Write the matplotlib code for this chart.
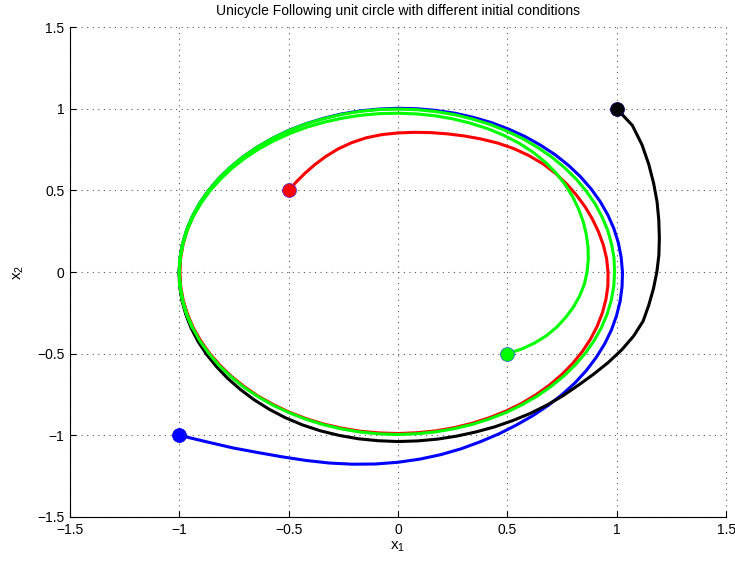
import numpy as np
import matplotlib
matplotlib.use("Agg")
import matplotlib.pyplot as plt

plt.rcParams["font.family"] = ["Liberation Sans", "DejaVu Sans"]
plt.rcParams["mathtext.fontset"] = "custom"
plt.rcParams["mathtext.rm"] = "Liberation Sans"

TITLE = "Unicycle Following unit circle with different initial conditions"
TICKS = [-1.5, -1, -0.5, 0, 0.5, 1, 1.5]

# trajectories read off the picture as distance from the origin,
# sampled every 5 degrees (start angle, step in degrees)
blue_start, blue_step = 225, 5
blue_r = [1.414, 1.358, 1.315, 1.277, 1.249, 1.228, 1.211, 1.195,
          1.180, 1.165, 1.150, 1.135, 1.120, 1.105, 1.093, 1.082,
          1.074, 1.067, 1.061, 1.056, 1.051, 1.046, 1.042, 1.038,
          1.034, 1.031, 1.028, 1.026, 1.024, 1.023, 1.022, 1.021,
          1.020, 1.019, 1.018, 1.017, 1.016, 1.014, 1.013, 1.011,
          1.010, 1.008, 1.007, 1.005, 1.004, 1.003, 1.002, 1.002,
          1.002, 1.001, 1.001, 1.001, 1.0, 1.0, 1.0, 1.0,
          1.0, 1.0, 1.0, 1.0, 1.0, 1.0, 1.0, 1.0,
          1.0, 1.0, 1.0, 1.0]

black_start, black_step = 45, -5
black_r = [1.414, 1.398, 1.361, 1.323, 1.289, 1.260, 1.234, 1.213,
           1.197, 1.183, 1.172, 1.164, 1.160, 1.146, 1.128, 1.109,
           1.091, 1.077, 1.069, 1.062, 1.056, 1.050, 1.046, 1.042,
           1.040, 1.039, 1.038, 1.038, 1.037, 1.037, 1.036, 1.035,
           1.033, 1.030, 1.026, 1.022, 1.018, 1.015, 1.012, 1.010,
           1.008, 1.006, 1.004, 1.003, 1.002, 1.001, 1.0, 1.0]

red_start, red_step = 135, -5
red_r = [0.707, 0.722, 0.740, 0.760, 0.781, 0.802, 0.820, 0.835,
         0.845, 0.852, 0.859, 0.867, 0.876, 0.887, 0.899, 0.912,
         0.923, 0.931, 0.937, 0.940, 0.941, 0.942, 0.944, 0.946,
         0.949, 0.953, 0.957, 0.960, 0.963, 0.965, 0.967, 0.969,
         0.971, 0.973, 0.975, 0.977, 0.979, 0.981, 0.983, 0.984,
         0.985, 0.986, 0.987, 0.988, 0.988, 0.989, 0.989, 0.990,
         0.990, 0.991, 0.991, 0.992, 0.992, 0.993, 0.993, 0.994,
         0.994, 0.995, 0.995, 0.996, 0.996, 0.997, 0.997, 0.997,
         0.997, 0.997, 0.997, 0.997, 0.997, 0.997, 0.997, 0.997]

green_start, green_step = 315, 5
green_r = [0.707, 0.735, 0.760, 0.782, 0.800, 0.815, 0.830, 0.843,
           0.855, 0.864, 0.873, 0.882, 0.891, 0.901, 0.911, 0.922,
           0.933, 0.943, 0.952, 0.959, 0.964, 0.967, 0.969, 0.970,
           0.971, 0.972, 0.972, 0.973, 0.974, 0.975, 0.976, 0.978,
           0.980, 0.982, 0.984, 0.986, 0.988, 0.990, 0.991, 0.993,
           0.994, 0.996, 0.997, 0.998, 0.999, 1.0, 1.0, 1.0,
           1.0, 0.999, 0.999, 0.998, 0.998, 0.997, 0.997, 0.996,
           0.996, 0.995, 0.995, 0.995, 0.995, 0.995, 0.995, 0.995,
           0.994, 0.994, 0.993, 0.993, 0.992, 0.992, 0.991, 0.991,
           0.990, 0.990, 0.990, 0.990, 0.990, 0.990, 0.990, 0.990,
           0.990, 0.990, 0.991, 0.991, 0.992, 0.992, 0.993, 0.993,
           0.994, 0.994, 0.995, 0.995, 0.996, 0.996, 0.997, 0.997,
           0.998, 0.998, 0.998, 0.998, 0.999, 0.999, 0.999, 0.999,
           1.0, 1.0, 1.0, 1.0, 1.0, 1.0, 1.0, 1.0,
           1.0, 1.0, 1.0, 1.0, 1.0, 1.0, 1.0, 1.0,
           1.0, 1.0]


def to_xy(start, step, radii):
    ang = np.deg2rad(start + step * np.arange(len(radii)))
    r = np.array(radii)
    return r * np.cos(ang), r * np.sin(ang)


fig = plt.figure(figsize=(7.35, 5.65), dpi=100)
ax = fig.add_axes([0.095, 0.085, 0.893, 0.867])

curves = [
    (blue_start, blue_step, blue_r, "#0000ff", "#0000ff"),
    (black_start, black_step, black_r, "black", "#000060"),
    (red_start, red_step, red_r, "#ff0000", "#6a2cc8"),
    (green_start, green_step, green_r, "#00ff00", "#3070c0"),
]
starts = []
for start, step, radii, col, edge in curves:
    x, y = to_xy(start, step, radii)
    ax.plot(x, y, color=col, lw=2.2, solid_joinstyle="round",
            solid_capstyle="butt")
    starts.append((x[0], y[0], col, edge))

# starting points on top
for x0, y0, col, edge in starts:
    ax.plot(x0, y0, "o", ms=10, mfc=col, mec=edge, mew=0.6)

ax.set_xlim(-1.5, 1.5)
ax.set_ylim(-1.5, 1.5)
ax.set_xticks(TICKS)
ax.set_yticks(TICKS)
ax.set_xticklabels([f"{t:g}".replace("-", "\u2212") for t in TICKS])
ax.set_yticklabels([f"{t:g}".replace("-", "\u2212") for t in TICKS])
ax.tick_params(direction="in", length=4, width=0.8, labelsize=10, pad=4,
               top=False, right=False)
ax.spines["top"].set_visible(False)
ax.spines["right"].set_visible(False)
ax.spines["left"].set_linewidth(0.8)
ax.spines["bottom"].set_linewidth(0.8)

ax.grid(True, linestyle=(0, (1, 4)), color="0.35", linewidth=0.8)
for gl in ax.get_xgridlines() + ax.get_ygridlines():
    gl.set_clip_on(False)
ax.set_axisbelow(True)

ax.set_title(TITLE, fontsize=10, pad=9)
ax.set_xlabel(r"$\mathregular{x_1}$", fontsize=11, labelpad=2)
ax.set_ylabel(r"$\mathregular{x_2}$", fontsize=11, labelpad=8)

fig.savefig("out.png", dpi=100)
